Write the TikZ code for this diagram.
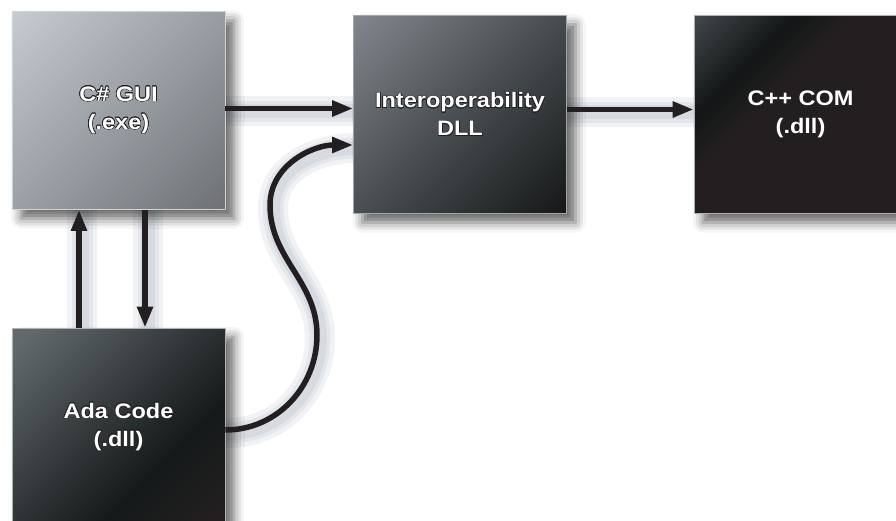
\documentclass[tikz,border=0pt]{standalone}
\usepackage{fontspec}
\setmainfont{Liberation Sans}[FakeStretch=1.12]
\usepackage{contour}
\contourlength{0.6pt}
\usetikzlibrary{arrows.meta,shadows.blur,calc}

\definecolor{ink}{HTML}{231F20}
\definecolor{glowc}{HTML}{6F7D90}
\definecolor{guiA}{HTML}{C6CBD1}
\definecolor{guiB}{HTML}{6C7276}
\definecolor{iopA}{HTML}{80868B}
\definecolor{iopM}{HTML}{474D50}
\definecolor{iopB}{HTML}{161818}
\definecolor{adaA}{HTML}{62696D}
\definecolor{adaM}{HTML}{141919}
\definecolor{adaB}{HTML}{231F20}
\definecolor{comA}{HTML}{41474A}
\definecolor{comM}{HTML}{131717}
\definecolor{comB}{HTML}{231F20}

% diagonal fills: 0bp = lower right corner side, 100bp = upper left
\pgfdeclareverticalshading{guishade}{100bp}{color(0bp)=(guiB); color(15bp)=(guiB); color(85bp)=(guiA); color(100bp)=(guiA)}
\pgfdeclareverticalshading{iopshade}{100bp}{color(0bp)=(iopB); color(15bp)=(iopB); color(50bp)=(iopM); color(85bp)=(iopA); color(100bp)=(iopA)}
\pgfdeclareverticalshading{adashade}{100bp}{color(0bp)=(adaB); color(18bp)=(adaB); color(36bp)=(adaM); color(82bp)=(adaA); color(100bp)=(adaA)}
\pgfdeclareverticalshading{comshade}{100bp}{color(0bp)=(comB); color(58bp)=(comB); color(68bp)=(comM); color(85bp)=(comA); color(100bp)=(comA)}

\pgfdeclarelayer{bg}
\pgfsetlayers{bg,main}

\tikzset{
  module/.style={rectangle, minimum width=213pt, minimum height=198pt, inner sep=0pt,
    draw=#1, line width=0.6pt, shade, shading angle=45,
    blur shadow={shadow xshift=9pt, shadow yshift=-9pt, shadow blur radius=10pt, shadow opacity=60},
    text=white, align=center, font=\bfseries\fontsize{21}{28}\selectfont},
  conn/.style={draw=ink, line width=5.5pt, -{Triangle[length=21pt,width=15pt]}},
  glow/.style={draw=glowc, line width=#1, opacity=0.1, line cap=round, arrows=-},
}

\newcommand{\lbl}[1]{\contour{ink}{#1}}
% connector with a soft halo underneath
\newcommand{\link}[1]{%
  \begin{pgfonlayer}{bg}
    \foreach \w in {30,21,14}{\draw[glow=\w pt, transform canvas={shift={(3pt,-3pt)}}] #1;}
  \end{pgfonlayer}
  \draw[conn] #1;}

\begin{document}
\begin{tikzpicture}[x=1pt, y=-1pt]
  \useasboundingbox (0,0) rectangle (896,521);
  \clip (0,0) rectangle (896,521);

  \node[module=guiA!80!white, shading=guishade] (cs)  at (118.5,110.5) {\lbl{C\# GUI}\\\lbl{(.exe)}};
  \node[module=gray!70, shading=iopshade] (iop) at (460,114.5) {\lbl{Interoperability}\\\lbl{DLL}};
  \node[module=gray!60, shading=comshade] (com) at (800.5,114.5) {\lbl{C++ COM}\\\lbl{(.dll)}};
  \node[module=gray!60, shading=adashade] (ada) at (118.5,427) {\lbl{Ada Code}\\\lbl{(.dll)}};

  \coordinate (a1) at ([yshift=2pt]cs.east);
  \coordinate (a2) at ([yshift=5pt]iop.east);
  \coordinate (u1) at ([xshift=-39.5pt]ada.north);
  \coordinate (d1) at ([xshift=26.5pt]cs.south);
  \coordinate (c0) at ([yshift=-3pt]ada.east);
  \coordinate (c1) at (317,335);
  \coordinate (c2) at (270,205);
  \coordinate (c3) at ([yshift=-30.5pt]iop.west);

  \link{(a1) -- (a1 -| iop.west)}
  \link{(a2) -- (a2 -| com.west)}
  \link{(u1) -- (u1 |- cs.south)}
  \link{(d1) -- (d1 |- ada.north)}
  \link{(c0) to[out=0,in=-90] (c1) to[out=90,in=-90] (c2) to[out=90,in=180] (c3)}
\end{tikzpicture}
\end{document}
